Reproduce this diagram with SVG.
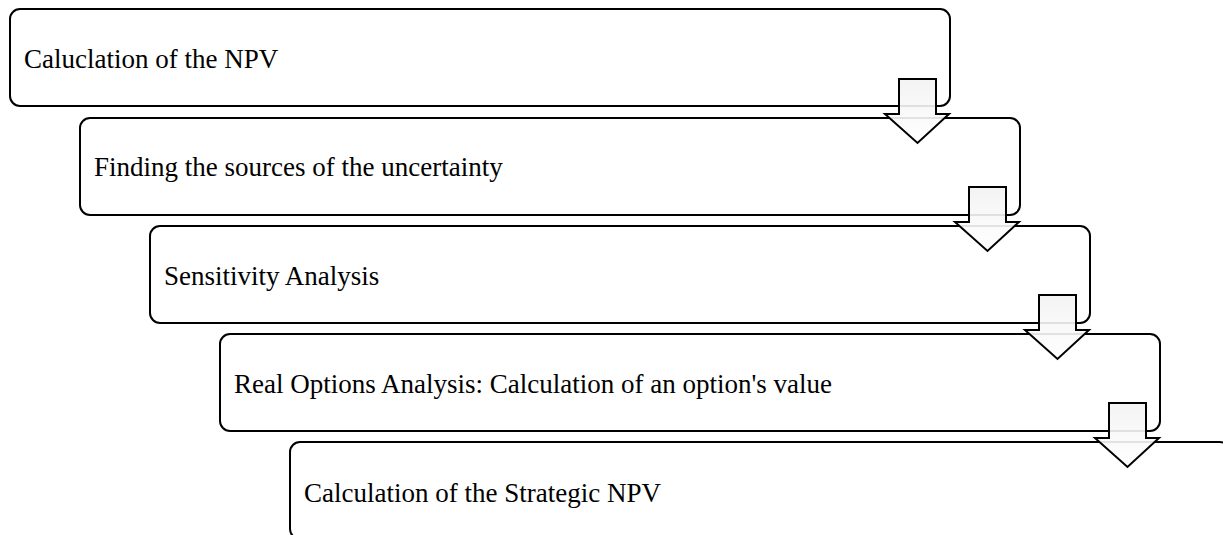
<svg xmlns="http://www.w3.org/2000/svg" width="1223" height="535" viewBox="0 0 1223 535">
  <style>
    .step rect { fill: #ffffff; stroke: #000000; stroke-width: 2; }
    .step text { font-family: "Liberation Serif", "Times New Roman", serif; font-size: 27px; fill: #000000; }
    .flow path { fill: url(#arrowFill); fill-opacity: 0.9; stroke: #000000; stroke-width: 2; stroke-linejoin: miter; }
  </style>
  <defs>
    <linearGradient id="arrowFill" x1="0" y1="0" x2="0" y2="1">
      <stop offset="0" stop-color="#f2f2f2"/>
      <stop offset="1" stop-color="#ffffff"/>
    </linearGradient>
    <!-- downward block arrow, shaft at origin -->
    <path id="downArrow" d="M0,0 H37 V35 H50 L18.5,64 L-14,35 H0 Z"/>
  </defs>
  <rect width="1223" height="535" fill="#ffffff"/>

  <g id="step1" class="step">
    <rect x="10" y="9" width="940" height="97" rx="10" ry="10"/>
    <text x="24" y="68">Caluclation of the NPV</text>
  </g>
  <g id="step2" class="step">
    <rect x="80" y="118" width="940" height="97" rx="10" ry="10"/>
    <text x="94" y="176">Finding the sources of the uncertainty</text>
  </g>
  <g id="step3" class="step">
    <rect x="150" y="226" width="940" height="97" rx="10" ry="10"/>
    <text x="164" y="285">Sensitivity Analysis</text>
  </g>
  <g id="step4" class="step">
    <rect x="220" y="334" width="940" height="97" rx="10" ry="10"/>
    <text x="234" y="393">Real Options Analysis: Calculation of an option's value</text>
  </g>
  <g id="step5" class="step">
    <rect x="290" y="442" width="940" height="97" rx="10" ry="10"/>
    <text x="304" y="502">Calculation of the Strategic NPV</text>
  </g>

  <g id="connectors" class="flow">
    <path d="M899,79 H936 V114 H949 L917.5,143 L885,114 H899 Z"/>
    <path d="M969,187 H1006 V222 H1019 L987.5,251 L955,222 H969 Z"/>
    <path d="M1039,295 H1076 V330 H1089 L1057.5,359 L1025,330 H1039 Z"/>
    <path d="M1109,403 H1146 V438 H1159 L1127.5,467 L1095,438 H1109 Z"/>
  </g>
</svg>
